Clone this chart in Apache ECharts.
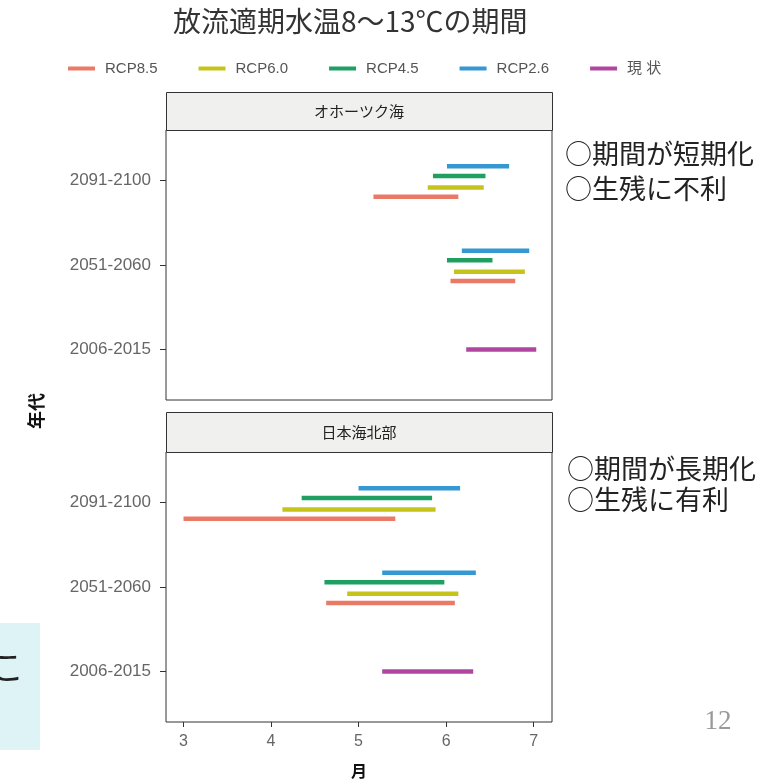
<!DOCTYPE html>
<html>
<head>
    <meta charset="utf-8">
    <title>放流適期水温8～13℃の期間</title>
    <script src="https://cdn.jsdelivr.net/npm/echarts@6/dist/echarts.min.js"></script>
    <style>
        body { margin: 0; background: #fff; }
        #main { width: 778px; height: 781px; }
    </style>
</head>
<body>
    <div id="main"></div>
    <script type="text/javascript">
        // y categories (bottom to top) and x ticks (month)
        var periods = ['2006-2015', '2051-2060', '2091-2100'];
        var monthTicks = [3, 4, 5, 6, 7];
        var seriesNames = ['RCP8.5', 'RCP6.0', 'RCP4.5', 'RCP2.6', '現 状'];
        var panelNames = ['オホーツク海', '日本海北部'];

        // each row: [period index, start month, end month]
        var okhotskRcp85 = [[1, 6.05, 6.79], [2, 5.17, 6.14]];
        var okhotskRcp60 = [[1, 6.09, 6.90], [2, 5.79, 6.43]];
        var okhotskRcp45 = [[1, 6.01, 6.53], [2, 5.85, 6.45]];
        var okhotskRcp26 = [[1, 6.18, 6.95], [2, 6.01, 6.72]];
        var okhotskNow = [[0, 6.23, 7.03]];

        var japanSeaRcp85 = [[1, 4.63, 6.10], [2, 3.00, 5.42]];
        var japanSeaRcp60 = [[1, 4.87, 6.14], [2, 4.13, 5.88]];
        var japanSeaRcp45 = [[1, 4.61, 5.98], [2, 4.35, 5.84]];
        var japanSeaRcp26 = [[1, 5.27, 6.34], [2, 5.00, 6.16]];
        var japanSeaNow = [[0, 5.27, 6.31]];

        var panelData = [
            [okhotskRcp85, okhotskRcp60, okhotskRcp45, okhotskRcp26, okhotskNow],
            [japanSeaRcp85, japanSeaRcp60, japanSeaRcp45, japanSeaRcp26, japanSeaNow]
        ];

        // look of each series: colour and vertical dodge (in category units, + is down)
        var colors = ['#ea7a66', '#c6c41a', '#1f9f62', '#3598d3', '#b0469f'];
        var dodge = [0.19, 0.08, -0.055, -0.17, 0];

        var font = "'Liberation Sans', 'Noto Sans CJK JP', sans-serif";
        var cjk = "'Noto Sans CJK JP', sans-serif";

        var gridTops = [130, 452];
        var gridHeight = 270;

        var myChart = echarts.init(document.getElementById('main'));

        var grids = [], xAxes = [], yAxes = [], series = [];
        gridTops.forEach(function (top, p) {
            grids.push({
                left: 166, width: 386, top: top, height: gridHeight,
                show: true, borderColor: '#333', borderWidth: 1,
                backgroundColor: '#fff'
            });
            var bottom = p === gridTops.length - 1;
            xAxes.push({
                gridIndex: p, type: 'value', min: 2.8, max: 7.21,
                axisLine: { show: false },
                splitLine: { show: false },
                axisTick: { show: bottom, length: 5, customValues: monthTicks, lineStyle: { color: '#333' } },
                axisLabel: { show: bottom, customValues: monthTicks, margin: 12, color: '#666', fontSize: 16, fontFamily: font },
                name: bottom ? '月' : '', nameLocation: 'middle', nameGap: 41,
                nameTextStyle: { color: '#111', fontSize: 16, fontWeight: 'bold', fontFamily: cjk }
            });
            yAxes.push({
                gridIndex: p, type: 'value', min: 0.4, max: 3.6,
                axisLine: { show: false },
                splitLine: { show: false },
                axisTick: { show: true, length: 6, customValues: [1, 2, 3], lineStyle: { color: '#333' } },
                axisLabel: {
                    customValues: [1, 2, 3], margin: 15, color: '#666', fontSize: 17, fontFamily: font,
                    formatter: function (v) { return periods[Math.round(v) - 1]; }
                }
            });
            panelData[p].forEach(function (rows, s) {
                series.push({
                    name: seriesNames[s],
                    type: 'custom',
                    xAxisIndex: p, yAxisIndex: p,
                    itemStyle: { color: colors[s] },
                    encode: { x: [1, 2], y: 0 },
                    renderItem: (function (off) {
                        return function (params, api) {
                            var y = api.value(0) + 1 - off;
                            var a = api.coord([api.value(1), y]);
                            var b = api.coord([api.value(2), y]);
                            return {
                                type: 'line',
                                shape: { x1: a[0], y1: a[1], x2: b[0], y2: b[1] },
                                style: { stroke: api.visual('color'), lineWidth: 4.5 }
                            };
                        };
                    })(dodge[s]),
                    data: rows
                });
            });
        });

        var graphics = [];
        // facet strips
        [[92, 38], [412, 40]].forEach(function (s, p) {
            graphics.push({
                type: 'rect', left: 166, top: s[0],
                shape: { width: 386, height: s[1] },
                style: { fill: '#f0f0ee', stroke: '#333', lineWidth: 1 }
            });
            graphics.push({
                type: 'text', x: 359, y: s[0] + s[1] / 2,
                style: {
                    text: panelNames[p], fill: '#222', font: '15px ' + cjk,
                    textAlign: 'center', textVerticalAlign: 'middle'
                }
            });
        });
        // notes beside the panels
        var notes = [
            ['○期間が短期化', 565, 154], ['○生残に不利', 565, 189],
            ['○期間が長期化', 567, 469], ['○生残に有利', 567, 500]
        ];
        notes.forEach(function (n) {
            graphics.push({
                type: 'text', x: n[1], y: n[2],
                style: { text: n[0], fill: '#222', font: '27px ' + cjk, textVerticalAlign: 'middle' }
            });
        });
        // y axis title shared by both panels
        graphics.push({
            type: 'text', x: 36, y: 411, rotation: Math.PI / 2,
            style: { text: '年代', fill: '#111', font: 'bold 18px ' + cjk, textAlign: 'center', textVerticalAlign: 'middle' }
        });
        // slide leftovers: page number and side box
        graphics.push({
            type: 'text', x: 718, y: 722,
            style: { text: '12', fill: '#999', font: '27px "Liberation Serif", serif', textAlign: 'center', textVerticalAlign: 'middle' }
        });
        graphics.push({
            type: 'rect', left: 0, top: 623, shape: { width: 40, height: 127 },
            style: { fill: '#ddf3f6' }
        });
        graphics.push({
            type: 'text', x: -10, y: 667,
            style: { text: 'こ', fill: '#222', font: '34px ' + cjk, textVerticalAlign: 'middle' }
        });

        var option = {
            animation: false,
            backgroundColor: '#fff',
            title: {
                text: '放流適期水温8～13℃の期間',
                left: 168, top: 2,
                textStyle: { fontSize: 28, fontWeight: 'normal', color: '#333', fontFamily: cjk }
            },
            legend: {
                data: seriesNames,
                left: 63, top: 56,
                icon: 'rect', itemWidth: 27, itemHeight: 4, itemGap: 41,
                textStyle: { fontSize: 15, color: '#555', fontFamily: font, padding: [0, 0, 0, 5] }
            },
            grid: grids,
            xAxis: xAxes,
            yAxis: yAxes,
            graphic: graphics,
            series: series
        };

        myChart.setOption(option);
    </script>
</body>
</html>
